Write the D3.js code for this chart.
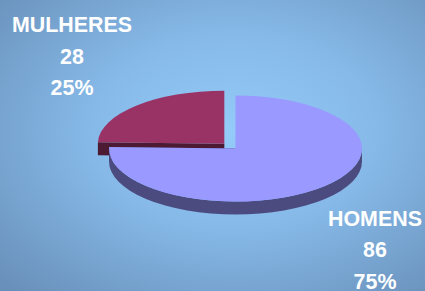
<!DOCTYPE html>
<html>
<head>
<meta charset="utf-8">
<script src="https://cdn.jsdelivr.net/npm/d3@7"></script>
<style>
  html, body { margin: 0; padding: 0; overflow: hidden; }
  svg { display: block; }
</style>
</head>
<body>
<script>
// data
const categories = ["HOMENS", "MULHERES"];
const values = [86, 28];

const width = 425;
const height = 291;

// slice colors (top face, side wall)
const topColor = ["#9999ff", "#993366"];
const sideColor = ["#4c4b80", "#4d1a33"];

// pie geometry
const cx = 235.5, cy = 148.5;
const rx = 126.5, ry = 53;
const depth = 13;
const explode = [0, 16];

// label anchors (center x, first baseline y)
const labelPos = [[375, 225.5], [72, 32]];
const lineGap = 31.5;

const svg = d3.select("body")
    .append("svg")
    .attr("width", width)
    .attr("height", height);

const defs = svg.append("defs");
const grad = defs.append("radialGradient")
    .attr("id", "bg")
    .attr("cx", "0.55").attr("cy", "0.45")
    .attr("r", "0.75");
grad.append("stop").attr("offset", "0").attr("stop-color", "#94cbf8");
grad.append("stop").attr("offset", "0.45").attr("stop-color", "#86b9e8");
grad.append("stop").attr("offset", "1").attr("stop-color", "#6990ba");

svg.append("rect")
    .attr("width", width)
    .attr("height", height)
    .attr("fill", "url(#bg)");

const pie = d3.pie().value(d => d)(values);
const total = d3.sum(values);
const pct = d3.format(".0%");

function pt(x0, y0, a, dz) {
    return [x0 + rx * Math.sin(a), y0 - ry * Math.cos(a) + (dz || 0)];
}

// draw back slice (smaller) first, then the big one in front
const order = [1, 0];

order.forEach(i => {
    const s = pie[i];
    const mid = (s.startAngle + s.endAngle) / 2;
    const ox = cx + explode[i] * Math.sin(mid);
    const oy = cy - explode[i] * Math.cos(mid) * (ry / rx);
    const g = svg.append("g");

    // radial cut faces
    [s.startAngle, s.endAngle].forEach(a => {
        const p = pt(ox, oy, a);
        const path = d3.path();
        path.moveTo(ox, oy);
        path.lineTo(p[0], p[1]);
        path.lineTo(p[0], p[1] + depth);
        path.lineTo(ox, oy + depth);
        path.closePath();
        g.append("path").attr("d", path.toString()).attr("fill", sideColor[i]);
    });

    // outer wall on the front half
    const a0 = Math.max(s.startAngle, Math.PI / 2);
    const a1 = Math.min(s.endAngle, 3 * Math.PI / 2);
    if (a1 > a0) {
        const t0 = pt(ox, oy, a0), t1 = pt(ox, oy, a1);
        const d = `M${t0[0]},${t0[1]} A${rx},${ry} 0 0 1 ${t1[0]},${t1[1]}` +
            ` L${t1[0]},${t1[1] + depth} A${rx},${ry} 0 0 0 ${t0[0]},${t0[1] + depth} Z`;
        g.append("path").attr("d", d).attr("fill", sideColor[i]);
    }

    // top face
    const p0 = pt(ox, oy, s.startAngle), p1 = pt(ox, oy, s.endAngle);
    const large = (s.endAngle - s.startAngle) > Math.PI ? 1 : 0;
    g.append("path")
        .attr("d", `M${ox},${oy} L${p0[0]},${p0[1]} A${rx},${ry} 0 ${large} 1 ${p1[0]},${p1[1]} Z`)
        .attr("fill", topColor[i]);
});

// labels
categories.forEach((c, i) => {
    [c, values[i], pct(values[i] / total)].forEach((line, k) => {
        svg.append("text")
            .attr("transform", `translate(${labelPos[i][0]},${labelPos[i][1] + k * lineGap}) scale(1.02,1.08)`)
            .attr("text-anchor", "middle")
            .attr("fill", "#ffffff")
            .attr("font-family", "'Liberation Sans', Arial, sans-serif")
            .attr("font-weight", "bold")
            .attr("font-size", 21)
            .text(line);
    });
});
</script>
</body>
</html>
